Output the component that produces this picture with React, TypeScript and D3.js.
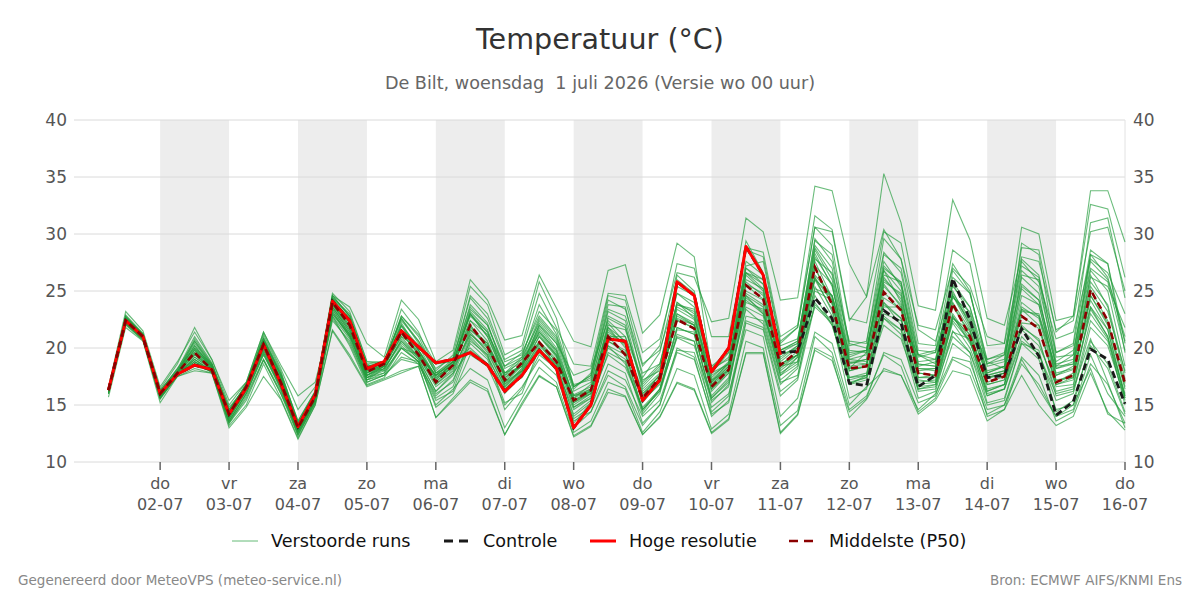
import React from "react";
import * as d3 from "d3";

const WIDTH = 1200;
const HEIGHT = 600;
const PLOT = { left: 74, right: 1125, top: 120, bottom: 462 };

// 6-hourly steps from wo 01-07 06 UTC
const RUN_START = Date.UTC(2026, 6, 1, 6);
const STEP_MS = 6 * 3600 * 1000;

const dayNames = ["do", "vr", "za", "zo", "ma", "di", "wo", "do", "vr", "za", "zo", "ma", "di", "wo", "do"];
const dayDates = ["02-07", "03-07", "04-07", "05-07", "06-07", "07-07", "08-07", "09-07", "10-07", "11-07", "12-07", "13-07", "14-07", "15-07", "16-07"];
const yTicks = [10, 15, 20, 25, 30, 35, 40];

// Hoge resolutie (10 dagen)
const hres = [16.3, 22.4, 21.0, 16.0, 17.7, 18.5, 18.1, 14.2, 16.5, 20.3, 16.9, 13.1, 15.9, 24.1, 22.4, 18.2, 18.8, 21.5, 20.1, 18.7, 19.0, 19.6, 18.5, 16.2, 17.6, 19.8, 18.2, 13.0, 15.0, 20.8, 20.6, 15.4, 17.2, 25.8, 24.6, 17.9, 20.0, 28.9, 26.4, 19.4];

// Controle
const control = [16.3, 22.4, 21.0, 16.0, 17.7, 18.5, 18.1, 14.2, 16.5, 20.3, 16.9, 13.1, 15.9, 24.1, 22.4, 18.2, 18.8, 21.5, 20.1, 18.7, 19.0, 19.6, 18.5, 16.2, 17.6, 19.8, 18.2, 13.0, 15.0, 20.8, 20.6, 15.4, 17.2, 25.8, 24.6, 17.9, 20.0, 28.9, 26.4, 19.6, 19.7, 24.4, 22.6, 16.9, 16.7, 23.3, 22.2, 16.6, 17.6, 26.1, 22.5, 17.4, 17.6, 21.7, 19.3, 14.1, 15.3, 19.9, 19.0, 15.1];

// Middelste (P50)
const median = [16.3, 22.4, 21.0, 16.0, 17.8, 19.6, 18.1, 14.2, 16.6, 20.3, 17.0, 13.0, 15.7, 24.0, 22.0, 17.9, 18.6, 21.4, 19.4, 17.0, 18.5, 22.0, 20.1, 17.2, 18.7, 20.5, 18.8, 15.4, 16.3, 21.0, 19.4, 15.6, 17.4, 22.5, 21.7, 16.6, 18.1, 25.5, 24.3, 18.5, 19.7, 27.1, 23.8, 18.2, 18.4, 24.9, 23.3, 17.8, 17.6, 23.9, 21.0, 17.0, 17.5, 22.8, 21.7, 17.0, 17.6, 25.1, 22.4, 16.9];

// Verstoorde runs
const members = [
  [16.3, 22.5, 21.0, 16.0, 17.8, 19.9, 18.3, 14.1, 16.6, 20.6, 17.2, 13.1, 15.8, 24.3, 22.4, 18.0, 18.7, 21.9, 19.8, 17.2, 18.6, 23.0, 21.0, 17.6, 19.0, 21.2, 19.3, 15.9, 16.6, 21.8, 20.0, 15.8, 17.7, 23.4, 22.5, 17.0, 18.7, 26.4, 25.0, 19.0, 20.2, 28.3, 25.4, 18.7, 19.0, 26.2, 24.3, 18.2, 18.0, 25.0, 22.0, 17.3, 17.8, 24.0, 22.8, 17.6, 18.1, 26.4, 23.6, 17.3],
  [16.1, 22.2, 20.8, 15.8, 17.6, 18.4, 18.0, 14.0, 16.2, 19.6, 16.6, 12.6, 15.4, 23.6, 21.4, 17.6, 18.2, 20.4, 19.0, 16.2, 17.8, 19.8, 18.6, 16.4, 17.9, 19.6, 18.2, 14.6, 15.6, 19.4, 18.3, 14.8, 16.4, 20.9, 20.2, 15.6, 17.2, 23.4, 22.1, 16.8, 18.2, 24.6, 22.0, 16.9, 17.4, 22.0, 20.8, 16.4, 16.8, 21.5, 19.6, 15.8, 16.4, 20.6, 19.5, 15.4, 16.0, 21.8, 20.2, 15.6],
  [16.4, 22.9, 21.3, 16.3, 18.1, 21.0, 18.7, 14.6, 16.8, 21.0, 17.8, 13.6, 16.2, 24.8, 23.2, 18.8, 18.6, 22.8, 21.2, 18.6, 19.0, 24.6, 23.0, 19.0, 19.8, 24.8, 21.8, 18.6, 18.4, 24.8, 24.6, 19.6, 20.8, 26.6, 26.2, 22.3, 22.6, 31.4, 30.2, 24.2, 24.4, 34.2, 33.8, 27.4, 24.5, 30.4, 27.8, 22.0, 21.6, 27.0, 25.4, 21.0, 20.4, 27.6, 25.8, 20.8, 21.4, 27.8, 26.6, 23.0],
  [16.0, 22.0, 20.7, 15.5, 17.6, 18.8, 17.9, 13.4, 15.4, 18.9, 16.0, 12.3, 15.2, 22.4, 20.6, 17.2, 17.6, 19.2, 18.8, 15.0, 16.4, 18.2, 17.2, 13.0, 15.6, 18.3, 17.0, 12.6, 13.6, 17.0, 16.4, 12.6, 14.4, 18.2, 17.6, 12.9, 14.2, 20.6, 20.0, 13.2, 14.5, 21.0, 19.6, 14.6, 15.8, 19.4, 18.4, 14.4, 15.6, 19.0, 18.2, 14.2, 15.0, 19.2, 17.6, 13.6, 14.4, 18.6, 16.8, 13.4],
  [16.5, 22.8, 21.2, 16.2, 18.0, 20.4, 18.5, 14.4, 16.9, 20.8, 17.6, 12.8, 15.6, 24.6, 22.8, 18.4, 18.8, 22.6, 20.4, 17.8, 19.0, 24.4, 22.6, 18.8, 19.4, 23.2, 21.6, 16.8, 17.2, 23.8, 23.6, 17.4, 19.6, 26.0, 24.8, 18.4, 19.6, 28.6, 28.0, 20.6, 21.8, 30.6, 29.0, 20.2, 20.6, 28.4, 26.6, 19.4, 18.6, 26.8, 24.8, 18.8, 18.2, 25.4, 24.2, 18.4, 19.4, 28.2, 26.2, 20.6],
  [16.4, 22.7, 21.2, 16.4, 18.6, 21.8, 19.0, 15.4, 17.0, 21.4, 18.5, 15.8, 17.0, 23.0, 21.0, 18.6, 18.0, 20.0, 19.4, 17.6, 18.2, 21.2, 20.0, 17.0, 18.0, 20.4, 18.8, 15.4, 16.0, 20.2, 18.6, 14.6, 16.2, 21.6, 21.4, 15.4, 16.6, 24.4, 23.2, 17.6, 19.2, 27.2, 25.6, 18.2, 19.6, 26.4, 25.8, 19.4, 19.0, 24.0, 21.6, 16.4, 16.8, 22.2, 22.0, 16.6, 16.8, 23.6, 21.6, 15.6],
  [16.2, 22.3, 20.9, 15.9, 17.7, 19.2, 18.1, 13.8, 16.3, 20.1, 16.8, 12.6, 15.5, 23.8, 21.6, 17.4, 18.4, 21.0, 19.2, 17.6, 18.8, 22.4, 21.2, 18.4, 19.6, 22.8, 21.0, 16.4, 17.8, 24.6, 24.2, 18.6, 19.8, 24.8, 23.6, 17.6, 18.6, 26.6, 26.0, 19.6, 20.4, 29.4, 28.2, 19.8, 19.6, 27.6, 25.4, 19.2, 19.6, 24.6, 22.2, 18.6, 19.0, 26.8, 25.4, 18.8, 19.8, 27.0, 25.8, 19.8],
  [16.0, 22.4, 20.9, 15.7, 17.6, 19.0, 17.9, 13.6, 16.0, 19.4, 16.4, 12.4, 15.3, 22.8, 20.2, 16.8, 17.4, 19.6, 18.6, 15.4, 16.2, 20.4, 19.0, 15.2, 16.0, 20.0, 18.0, 13.8, 14.8, 18.6, 17.8, 13.4, 15.0, 19.6, 19.0, 14.2, 15.2, 22.2, 21.6, 15.8, 17.2, 23.8, 22.4, 15.6, 16.4, 22.6, 21.2, 15.6, 16.2, 21.4, 20.8, 15.2, 15.6, 20.4, 19.0, 14.6, 15.0, 20.6, 18.6, 14.4],
  [16.3, 22.6, 21.0, 16.1, 17.9, 20.2, 18.4, 14.2, 16.7, 20.4, 17.4, 13.0, 15.9, 24.4, 22.2, 17.8, 18.6, 22.0, 20.2, 17.4, 18.6, 23.8, 22.2, 17.8, 18.8, 22.4, 20.6, 16.2, 17.0, 22.6, 21.8, 16.6, 18.2, 24.0, 23.0, 16.8, 18.2, 25.6, 24.8, 18.2, 19.4, 27.8, 26.6, 20.6, 20.4, 29.6, 27.8, 20.4, 20.2, 28.6, 27.4, 20.2, 20.4, 30.6, 30.0, 22.4, 22.8, 33.8, 33.8, 29.3],
  [16.1, 22.1, 20.7, 15.6, 17.5, 18.2, 17.8, 13.2, 15.0, 18.6, 15.6, 12.1, 15.0, 21.6, 19.4, 16.7, 17.3, 18.0, 18.4, 13.9, 15.6, 17.2, 16.4, 12.4, 15.2, 17.6, 16.6, 12.3, 13.2, 16.4, 15.8, 12.4, 14.0, 17.0, 16.4, 12.6, 13.8, 19.6, 19.6, 12.6, 14.2, 20.0, 19.2, 13.9, 15.5, 18.2, 17.6, 14.2, 15.4, 18.0, 17.6, 13.6, 14.6, 17.6, 15.0, 13.2, 14.0, 17.8, 14.4, 12.8],
  [16.4, 22.6, 21.1, 16.1, 17.9, 20.8, 18.6, 14.8, 16.6, 21.2, 18.0, 13.4, 16.0, 24.6, 23.6, 20.4, 19.2, 24.2, 22.5, 18.8, 19.8, 26.0, 24.2, 20.7, 21.1, 26.4, 23.5, 20.6, 20.1, 26.8, 27.3, 21.3, 22.9, 29.2, 28.0, 18.0, 19.2, 24.6, 23.0, 18.6, 19.4, 25.2, 24.6, 19.6, 19.8, 26.8, 24.0, 18.4, 18.8, 24.8, 22.6, 17.8, 18.4, 23.4, 22.8, 18.2, 18.6, 25.4, 23.2, 18.0],
  [16.2, 22.5, 21.0, 16.0, 17.8, 19.4, 18.2, 14.2, 16.5, 20.2, 17.0, 13.0, 15.7, 23.9, 21.8, 17.6, 18.6, 21.4, 19.4, 17.0, 18.4, 22.0, 20.0, 17.0, 18.6, 21.6, 19.6, 15.4, 16.2, 21.2, 20.4, 16.2, 17.6, 22.4, 21.8, 17.2, 18.6, 27.2, 27.6, 20.4, 21.8, 30.6, 30.2, 22.4, 24.5, 35.3, 31.0, 23.7, 23.3, 33.0, 29.5, 22.6, 22.0, 28.0, 27.6, 21.6, 22.4, 30.2, 30.6, 25.0],
  [16.0, 22.2, 20.8, 15.6, 17.7, 18.6, 17.9, 13.5, 15.6, 19.0, 16.0, 12.8, 15.6, 22.6, 20.4, 17.0, 17.6, 19.0, 18.6, 16.0, 17.0, 21.0, 19.4, 14.6, 16.4, 19.4, 18.2, 13.6, 14.4, 18.0, 17.2, 14.0, 15.4, 19.8, 19.6, 14.8, 16.0, 21.6, 21.0, 14.0, 15.6, 21.4, 20.4, 15.0, 16.6, 18.0, 17.6, 14.6, 16.0, 19.2, 18.8, 14.6, 15.0, 18.6, 16.8, 14.0, 15.0, 18.2, 14.2, 13.4],
  [16.3, 22.4, 21.0, 16.0, 17.9, 19.6, 18.2, 14.1, 16.6, 20.3, 17.0, 13.0, 15.7, 24.0, 22.0, 17.9, 18.6, 21.4, 19.4, 17.0, 18.5, 22.0, 20.1, 17.2, 18.7, 20.5, 18.8, 15.4, 16.3, 21.0, 19.4, 15.6, 17.4, 22.5, 21.7, 16.6, 18.1, 25.5, 24.3, 18.5, 19.7, 27.1, 23.8, 18.2, 18.4, 24.9, 23.3, 17.8, 17.6, 23.9, 21.0, 17.0, 17.5, 22.8, 21.7, 17.0, 17.6, 25.1, 22.4, 16.9],
  [16.4, 22.7, 21.2, 16.2, 18.2, 20.0, 18.6, 14.4, 16.8, 20.6, 17.6, 13.4, 16.2, 24.6, 22.8, 18.4, 18.8, 22.4, 20.6, 18.2, 19.2, 23.6, 22.0, 18.4, 19.2, 23.8, 21.2, 16.6, 17.6, 24.2, 23.4, 18.4, 20.2, 27.4, 27.0, 21.0, 21.0, 28.8, 28.4, 21.0, 22.0, 31.6, 30.4, 22.6, 22.2, 30.2, 29.2, 21.6, 20.6, 25.4, 23.6, 18.6, 19.4, 28.8, 28.6, 21.4, 22.8, 32.6, 32.2, 26.2],
  [16.0, 22.1, 20.8, 15.6, 17.6, 18.6, 17.9, 13.4, 15.8, 19.0, 16.2, 12.4, 15.2, 22.8, 20.8, 17.0, 17.6, 20.0, 18.8, 14.8, 16.0, 19.4, 18.4, 15.0, 16.6, 19.0, 17.6, 13.0, 14.4, 17.6, 16.6, 13.2, 15.0, 20.0, 19.2, 14.0, 15.4, 22.4, 21.8, 16.2, 17.4, 25.0, 24.2, 16.8, 17.6, 24.4, 23.4, 18.6, 18.4, 25.6, 23.0, 17.4, 17.8, 26.4, 26.0, 18.4, 18.6, 28.2, 27.4, 20.4],
  [16.2, 22.4, 20.9, 15.8, 17.6, 19.2, 18.1, 14.0, 16.4, 20.0, 16.8, 12.8, 15.5, 23.4, 21.2, 17.2, 18.2, 20.6, 19.2, 16.8, 18.0, 21.4, 19.6, 16.6, 18.2, 21.4, 19.8, 15.8, 16.2, 22.0, 21.6, 17.0, 18.6, 24.8, 24.0, 17.8, 19.6, 27.0, 25.6, 19.8, 20.6, 29.6, 27.6, 20.4, 20.0, 27.0, 25.8, 17.8, 17.6, 22.8, 20.6, 16.2, 16.8, 23.2, 23.0, 18.2, 18.8, 26.2, 25.4, 21.8],
  [16.3, 22.4, 21.0, 16.0, 17.7, 18.6, 18.1, 14.2, 16.5, 20.2, 17.0, 13.0, 15.6, 23.8, 22.0, 18.0, 18.8, 21.4, 20.0, 18.6, 18.8, 20.0, 18.6, 16.4, 17.8, 20.4, 18.4, 13.4, 15.2, 21.0, 21.0, 15.6, 17.4, 26.4, 25.0, 18.2, 20.0, 29.4, 26.6, 19.4, 20.0, 26.0, 24.6, 18.8, 18.6, 25.6, 23.6, 18.0, 18.2, 23.0, 20.8, 16.8, 17.2, 23.6, 22.6, 17.2, 17.4, 24.6, 22.0, 16.4],
  [16.1, 22.3, 20.8, 15.7, 17.6, 18.8, 18.0, 13.6, 16.0, 19.4, 16.6, 12.6, 15.4, 23.0, 21.2, 17.4, 17.8, 20.2, 18.8, 15.6, 16.6, 20.8, 19.2, 16.4, 17.4, 19.8, 18.6, 14.8, 15.6, 20.2, 19.4, 14.6, 16.2, 21.0, 20.6, 14.4, 15.8, 22.8, 22.4, 17.0, 17.6, 24.0, 22.0, 17.2, 17.6, 22.6, 21.6, 16.4, 16.6, 21.0, 19.6, 15.0, 15.4, 20.4, 19.8, 14.4, 15.4, 20.2, 18.2, 14.2],
  [16.4, 22.8, 21.2, 16.2, 18.2, 20.6, 18.6, 14.6, 16.8, 20.8, 17.8, 13.6, 16.2, 24.4, 23.0, 18.8, 18.8, 23.4, 21.4, 18.0, 19.4, 25.4, 23.8, 19.4, 20.2, 25.8, 22.6, 16.6, 17.6, 23.4, 22.8, 17.8, 18.6, 23.8, 23.4, 18.2, 19.0, 26.6, 25.6, 19.8, 20.4, 28.8, 26.4, 19.2, 19.8, 26.8, 25.0, 18.8, 19.0, 26.2, 24.8, 19.0, 19.6, 27.2, 26.2, 19.6, 20.2, 28.6, 27.4, 19.6],
  [15.7, 21.8, 20.6, 15.2, 17.5, 18.0, 17.8, 13.0, 14.8, 17.5, 15.5, 12.0, 15.0, 21.5, 19.2, 16.6, 17.2, 17.8, 18.4, 13.9, 15.4, 17.0, 16.2, 12.4, 15.0, 17.5, 16.6, 12.2, 13.1, 16.1, 15.7, 12.4, 13.9, 16.9, 16.3, 12.5, 13.7, 19.5, 19.5, 12.5, 14.1, 19.8, 18.9, 14.4, 15.6, 19.6, 19.0, 15.2, 15.8, 20.4, 19.2, 14.0, 14.6, 19.0, 16.4, 14.0, 14.6, 19.4, 16.0, 14.0],
  [16.6, 23.2, 21.5, 16.6, 18.8, 21.4, 19.0, 15.0, 17.0, 21.4, 18.2, 14.6, 16.6, 23.6, 21.4, 18.2, 18.4, 21.0, 20.0, 18.6, 19.0, 21.6, 20.2, 17.8, 18.4, 22.0, 20.4, 17.6, 18.2, 22.4, 21.0, 17.2, 18.0, 24.0, 22.6, 17.8, 18.6, 24.2, 23.0, 18.4, 18.8, 23.6, 22.2, 17.0, 17.4, 23.0, 22.4, 19.4, 19.8, 24.6, 21.8, 19.0, 19.4, 25.6, 24.2, 18.6, 19.0, 26.8, 25.0, 18.4],
  [16.2, 22.6, 21.1, 16.0, 17.8, 20.2, 18.3, 14.4, 16.7, 20.6, 17.4, 12.8, 15.6, 24.2, 22.6, 17.8, 18.6, 22.2, 19.8, 17.2, 18.8, 23.0, 21.4, 17.4, 18.6, 22.0, 20.0, 15.8, 16.4, 22.2, 20.4, 16.0, 17.2, 23.8, 23.2, 17.2, 18.0, 26.6, 25.2, 18.4, 19.4, 26.4, 24.6, 19.0, 18.8, 24.0, 22.6, 17.0, 17.2, 22.6, 21.6, 17.6, 18.0, 24.6, 23.8, 17.8, 18.2, 23.6, 21.0, 15.0],
  [16.3, 22.5, 21.1, 16.1, 17.9, 19.6, 18.2, 14.2, 16.5, 20.4, 17.2, 13.2, 15.8, 23.6, 21.6, 17.6, 18.4, 21.6, 19.6, 17.6, 18.8, 23.2, 21.6, 17.6, 18.4, 21.8, 19.8, 15.0, 16.0, 21.8, 20.6, 15.4, 16.8, 22.8, 22.0, 16.2, 17.8, 25.0, 24.2, 18.6, 19.4, 26.2, 23.2, 18.0, 18.4, 25.8, 24.8, 17.2, 17.0, 22.8, 20.4, 17.4, 17.8, 21.6, 20.2, 16.8, 17.2, 23.0, 20.8, 15.8],
  [16.2, 22.4, 21.0, 15.9, 17.7, 19.0, 18.0, 13.8, 16.2, 19.8, 16.8, 12.8, 15.5, 23.2, 21.0, 17.4, 18.0, 20.8, 19.2, 16.6, 17.8, 21.6, 20.4, 16.8, 18.0, 21.0, 19.2, 14.8, 15.8, 20.6, 19.6, 14.6, 16.4, 21.8, 21.2, 15.6, 17.0, 24.0, 23.4, 17.6, 18.6, 26.2, 24.0, 17.4, 17.6, 23.6, 23.6, 17.4, 17.6, 24.4, 23.2, 18.0, 18.4, 29.2, 28.2, 19.6, 20.4, 31.0, 31.4, 24.4],
  [16.3, 22.6, 21.0, 16.0, 17.8, 19.8, 18.4, 14.2, 16.6, 20.2, 17.2, 13.0, 15.8, 24.2, 22.2, 17.8, 18.4, 22.0, 19.8, 17.6, 18.8, 23.0, 21.0, 17.4, 18.4, 21.4, 19.4, 15.2, 16.0, 21.6, 20.2, 15.4, 17.2, 23.0, 22.2, 16.4, 18.0, 25.8, 24.6, 18.8, 20.0, 27.6, 24.4, 18.4, 18.6, 24.0, 22.0, 16.6, 16.8, 22.2, 20.0, 16.0, 16.4, 21.0, 19.4, 16.0, 16.4, 20.8, 17.0, 13.0],
  [16.2, 22.7, 21.2, 16.1, 17.8, 20.6, 18.4, 14.6, 16.6, 20.8, 17.6, 13.2, 16.0, 24.4, 22.8, 18.4, 18.6, 22.8, 21.0, 17.8, 18.4, 23.4, 22.0, 18.2, 19.0, 22.6, 20.8, 16.6, 17.4, 23.2, 22.4, 16.8, 18.4, 25.4, 24.6, 17.4, 18.8, 27.6, 26.4, 19.8, 20.6, 28.6, 26.0, 19.0, 19.4, 27.2, 25.6, 18.6, 18.4, 25.8, 23.6, 17.8, 18.4, 26.2, 24.8, 17.0, 17.8, 24.2, 21.6, 15.8],
  [16.1, 22.3, 20.9, 15.8, 17.7, 19.0, 18.0, 13.8, 16.4, 19.8, 16.6, 12.8, 15.6, 23.4, 21.2, 17.4, 18.2, 20.6, 19.0, 16.2, 17.6, 21.2, 19.8, 16.6, 18.0, 20.0, 18.4, 14.2, 15.4, 20.0, 19.0, 14.4, 16.4, 21.8, 21.2, 15.8, 17.4, 24.6, 23.6, 17.8, 18.8, 26.0, 23.4, 17.4, 17.8, 23.8, 22.6, 16.8, 17.0, 22.4, 20.6, 16.2, 16.8, 22.0, 20.6, 16.2, 16.6, 23.4, 21.0, 16.0],
  [16.4, 22.5, 21.1, 16.2, 18.0, 20.0, 18.4, 14.4, 16.8, 20.8, 17.6, 13.4, 16.0, 24.2, 22.6, 18.6, 18.8, 22.6, 20.6, 17.8, 18.8, 22.8, 21.4, 17.8, 19.2, 22.2, 20.4, 15.6, 16.8, 22.8, 22.0, 16.4, 17.8, 23.6, 22.8, 17.0, 18.4, 26.0, 25.2, 19.2, 20.2, 28.0, 25.6, 18.6, 19.0, 26.0, 24.6, 18.2, 18.2, 24.6, 22.4, 17.6, 18.0, 25.2, 23.8, 17.6, 18.4, 25.8, 23.8, 17.8],
  [16.2, 22.4, 21.0, 15.9, 17.8, 19.4, 18.1, 14.0, 16.4, 20.0, 17.0, 12.9, 15.6, 23.8, 21.8, 17.6, 18.4, 21.2, 19.6, 16.8, 18.2, 22.4, 20.6, 17.0, 18.4, 21.0, 19.4, 15.2, 16.2, 21.4, 20.4, 15.2, 17.0, 22.6, 22.0, 16.4, 17.8, 24.8, 23.8, 18.0, 19.2, 27.0, 24.2, 18.0, 18.4, 25.4, 23.8, 17.4, 17.4, 23.6, 21.4, 16.8, 17.2, 23.4, 22.0, 16.8, 17.4, 24.6, 22.2, 16.6],
  [16.3, 22.6, 21.1, 16.0, 17.8, 19.8, 18.3, 14.3, 16.6, 20.6, 17.2, 13.2, 15.8, 24.2, 22.4, 18.2, 18.6, 21.6, 19.8, 17.4, 18.6, 21.8, 20.4, 16.8, 18.2, 20.6, 19.0, 15.6, 16.4, 20.6, 19.8, 16.0, 17.6, 23.0, 22.0, 16.8, 18.4, 27.0, 26.0, 20.2, 20.8, 29.0, 27.0, 19.4, 19.8, 28.2, 27.0, 19.8, 19.6, 27.4, 25.0, 18.4, 18.8, 27.8, 26.4, 19.2, 19.4, 27.6, 26.0, 21.0],
  [16.1, 22.2, 20.8, 15.7, 17.6, 18.8, 17.9, 13.6, 16.0, 19.6, 16.4, 12.6, 15.4, 23.2, 21.0, 17.2, 17.8, 20.0, 18.8, 15.8, 17.2, 20.6, 19.4, 16.0, 17.6, 20.2, 18.6, 14.0, 15.2, 19.6, 18.8, 14.2, 16.0, 21.2, 20.6, 15.2, 16.8, 23.6, 22.8, 17.2, 18.4, 25.4, 22.8, 16.8, 17.2, 22.8, 21.6, 16.2, 16.4, 22.6, 21.2, 15.8, 16.4, 21.8, 20.8, 15.8, 16.2, 22.4, 20.6, 15.4],
];

const x = d3
  .scaleUtc()
  .domain([new Date(Date.UTC(2026, 5, 30, 18)), new Date(Date.UTC(2026, 6, 16, 0))])
  .range([PLOT.left, PLOT.right]);

const y = d3.scaleLinear().domain([10, 40]).range([PLOT.bottom, PLOT.top]);

const timeAt = (i: number) => new Date(RUN_START + i * STEP_MS);
const dayTicks = dayDates.map((_, i) => new Date(Date.UTC(2026, 6, 2 + i)));

const line = d3
  .line<number>()
  .x((_, i) => x(timeAt(i)))
  .y((d) => y(d));

const FONT = "'DejaVu Sans', Verdana, sans-serif";

export default function App() {
  return (
    <svg
      width={WIDTH}
      height={HEIGHT}
      style={{ position: "absolute", left: 0, top: 0, background: "#fff" }}
      fontFamily={FONT}
    >
      {/* title */}
      <text x={600} y={49} textAnchor="middle" fontSize={28.6} fill="#333">
        Temperatuur (°C)
      </text>
      <text x={600} y={89} textAnchor="middle" fontSize={17.6} fill="#666" style={{ whiteSpace: "pre" }}>
        {"De Bilt, woensdag  1 juli 2026 (Versie wo 00 uur)"}
      </text>

      {/* alternating day bands */}
      {dayTicks.slice(0, -1).map((d, i) =>
        i % 2 === 0 ? (
          <rect
            key={"band" + i}
            x={x(d)}
            y={PLOT.top}
            width={x(dayTicks[i + 1]) - x(d)}
            height={PLOT.bottom - PLOT.top}
            fill="#ededed"
          />
        ) : null
      )}

      {/* grid */}
      {yTicks.map((t) => (
        <line key={"g" + t} x1={PLOT.left} x2={PLOT.right} y1={y(t)} y2={y(t)} stroke="#dadada" strokeWidth={1} />
      ))}
      <line x1={PLOT.right} x2={PLOT.right} y1={PLOT.top} y2={PLOT.bottom} stroke="#e2e2e2" strokeWidth={1} />

      {/* y labels both sides */}
      {yTicks.map((t) => (
        <g key={"yl" + t} fontSize={17} fill="#555">
          <text x={67} y={y(t)} textAnchor="end" dominantBaseline="central">
            {t}
          </text>
          <text x={1133} y={y(t)} textAnchor="start" dominantBaseline="central">
            {t}
          </text>
        </g>
      ))}

      {/* x ticks */}
      {dayTicks.map((d, i) => (
        <g key={"xt" + i} transform={`translate(${x(d)},0)`}>
          <line y1={PLOT.bottom} y2={PLOT.bottom + 8} stroke="#666" strokeWidth={1.5} />
          <text y={489} textAnchor="middle" fontSize={16} fill="#555">
            {dayNames[i]}
          </text>
          <text y={510} textAnchor="middle" fontSize={16} fill="#555">
            {dayDates[i]}
          </text>
        </g>
      ))}

      {/* ensemble */}
      <g fill="none" stroke="#239c3d" strokeWidth={1.1} strokeOpacity={0.68}>
        {members.map((m, i) => (
          <path key={"m" + i} d={line(m) ?? ""} />
        ))}
      </g>
      <path d={line(control) ?? ""} fill="none" stroke="#1a1a1a" strokeWidth={2.8} strokeDasharray="7,4" />
      <path d={line(hres) ?? ""} fill="none" stroke="#ff0000" strokeWidth={3} strokeLinejoin="round" />
      <path d={line(median) ?? ""} fill="none" stroke="#8b0000" strokeWidth={2.6} strokeDasharray="7,4" />

      {/* legend */}
      <g fontSize={17.6} fill="#111">
        <line x1={232} x2={258} y1={541} y2={541} stroke="#239c3d" strokeOpacity={0.7} strokeWidth={1} />
        <text x={271} y={547}>Verstoorde runs</text>
        <line x1={444} x2={470} y1={541} y2={541} stroke="#1a1a1a" strokeWidth={3} strokeDasharray="9,6" />
        <text x={483} y={547}>Controle</text>
        <line x1={590} x2={616} y1={541} y2={541} stroke="#ff0000" strokeWidth={3} />
        <text x={629} y={547}>Hoge resolutie</text>
        <line x1={789} x2={815} y1={541} y2={541} stroke="#8b0000" strokeWidth={2.6} strokeDasharray="9,6" />
        <text x={829} y={547}>Middelste (P50)</text>
      </g>

      {/* footer */}
      <text x={18} y={585} fontSize={14} fill="#888" textLength={324} lengthAdjust="spacingAndGlyphs">
        Gegenereerd door MeteoVPS (meteo-service.nl)
      </text>
      <text x={990} y={585} fontSize={14} fill="#888" textLength={192} lengthAdjust="spacingAndGlyphs">
        Bron: ECMWF AIFS/KNMI Ens
      </text>
    </svg>
  );
}
